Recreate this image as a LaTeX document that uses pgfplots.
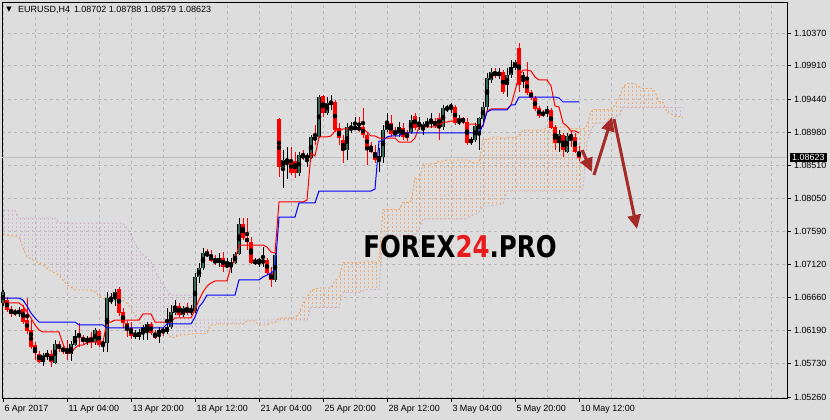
\documentclass[border=0pt]{standalone}
\usepackage{fontspec}
\setmainfont{Liberation Sans}
\newfontfamily\dejavu{DejaVu Sans}
\usepackage{graphicx}
\usepackage{pgfplots}
\pgfplotsset{compat=1.18}
\usepackage{pgfplotstable}
\usepgfplotslibrary{fillbetween}
\usetikzlibrary{patterns.meta, arrows.meta}

\definecolor{bg}{RGB}{221,221,221}
\definecolor{gridc}{RGB}{186,186,186}
\definecolor{bullc}{RGB}{54,104,88}
\definecolor{sandy}{RGB}{244,164,96}
\definecolor{thist}{RGB}{205,175,205}
\colorlet{hatchA}{sandy!80!bg}
\colorlet{hatchB}{thist!75!bg}
\definecolor{arrowc}{RGB}{165,42,42}
\definecolor{pline}{RGB}{192,192,192}
\definecolor{wred}{RGB}{232,28,28}
\pagecolor{bg}

\pgfdeclarepattern{
  name=vdash,
  type=uncolored,
  bottom left={\pgfpoint{-1bp}{-1bp}},
  top right={\pgfpoint{3bp}{3bp}},
  tile size={\pgfpoint{4bp}{4bp}},
  code={
    \pgfsetlinewidth{0.75bp}
    \pgfpathmoveto{\pgfpoint{0bp}{0bp}}
    \pgfpathlineto{\pgfpoint{0bp}{2bp}}
    \pgfusepath{stroke}
  }
}

% EURUSD H4 candles: bar index, open, high, low, close
\pgfplotstableread{
x o h l c
0 1.06580 1.06762 1.06538 1.06734
1 1.06622 1.06664 1.06454 1.06482
2 1.06496 1.06538 1.06384 1.06426
3 1.06468 1.06496 1.06398 1.06426
4 1.06426 1.06524 1.06384 1.06482
5 1.06496 1.06552 1.06285 1.06313
6 1.06341 1.06650 1.06145 1.06187
7 1.06201 1.06341 1.05934 1.05962
8 1.05990 1.06032 1.05780 1.05878
9 1.05864 1.05906 1.05738 1.05752
10 1.05752 1.05878 1.05696 1.05850
11 1.05836 1.05920 1.05780 1.05864
12 1.05864 1.05920 1.05682 1.05752
13 1.05738 1.06060 1.05724 1.06004
14 1.06004 1.06046 1.05892 1.05934
15 1.05948 1.05976 1.05864 1.05906
16 1.05934 1.06060 1.05780 1.05864
17 1.05864 1.06046 1.05766 1.06004
18 1.05990 1.06201 1.05976 1.06117
19 1.06131 1.06299 1.05962 1.06103
20 1.06103 1.06131 1.06004 1.06032
21 1.06032 1.06117 1.05990 1.06089
22 1.06103 1.06173 1.05948 1.06032
23 1.06032 1.06229 1.05990 1.06201
24 1.06187 1.06215 1.05962 1.05990
25 1.05990 1.06089 1.05892 1.06032
26 1.06018 1.06734 1.05892 1.06650
27 1.06594 1.06720 1.06566 1.06650
28 1.06650 1.06776 1.06538 1.06734
29 1.06776 1.06804 1.06398 1.06440
30 1.06454 1.06510 1.06229 1.06299
31 1.06299 1.06327 1.06103 1.06201
32 1.06229 1.06313 1.06075 1.06117
33 1.06103 1.06201 1.06075 1.06159
34 1.06103 1.06215 1.06060 1.06173
35 1.06159 1.06271 1.06060 1.06243
36 1.06201 1.06313 1.06060 1.06285
37 1.06285 1.06313 1.06131 1.06159
38 1.06159 1.06201 1.06075 1.06089
39 1.06145 1.06243 1.06018 1.06201
40 1.06215 1.06243 1.06117 1.06173
41 1.06173 1.06510 1.06145 1.06243
42 1.06243 1.06552 1.06215 1.06454
43 1.06440 1.06622 1.06412 1.06538
44 1.06538 1.06580 1.06384 1.06412
45 1.06412 1.06538 1.06384 1.06510
46 1.06510 1.06580 1.06412 1.06440
47 1.06440 1.06552 1.06412 1.06496
48 1.06468 1.07001 1.06440 1.06945
49 1.06945 1.07142 1.06861 1.07071
50 1.07071 1.07352 1.07043 1.07282
51 1.07282 1.07338 1.07226 1.07240
52 1.07254 1.07324 1.07156 1.07170
53 1.07184 1.07254 1.07114 1.07142
54 1.07142 1.07282 1.07085 1.07212
55 1.07212 1.07296 1.07015 1.07085
56 1.07085 1.07212 1.07071 1.07128
57 1.07085 1.07212 1.07001 1.07156
58 1.07142 1.07296 1.07128 1.07268
59 1.07268 1.07773 1.07254 1.07689
60 1.07689 1.07773 1.07464 1.07492
61 1.07492 1.07773 1.07324 1.07436
62 1.07436 1.07506 1.07128 1.07142
63 1.07142 1.07212 1.07114 1.07170
64 1.07156 1.07212 1.07085 1.07184
65 1.07142 1.07366 1.07085 1.07184
66 1.07184 1.07212 1.06973 1.07001
67 1.07001 1.07085 1.06804 1.06903
68 1.06903 1.07282 1.06875 1.07254
69 1.09163 1.09177 1.08349 1.08489
70 1.08489 1.08728 1.08195 1.08588
71 1.08574 1.08770 1.08321 1.08588
72 1.08588 1.08770 1.08377 1.08405
73 1.08574 1.08700 1.08335 1.08405
74 1.08405 1.08700 1.08363 1.08658
75 1.08658 1.08728 1.08588 1.08616
76 1.08616 1.08686 1.08489 1.08644
77 1.08616 1.08939 1.08602 1.08911
78 1.08911 1.09079 1.08798 1.08868
79 1.08911 1.09500 1.08896 1.09472
80 1.09486 1.09500 1.09191 1.09248
81 1.09248 1.09472 1.09220 1.09388
82 1.09374 1.09500 1.09290 1.09402
83 1.09402 1.09430 1.08981 1.09009
84 1.09037 1.09107 1.08798 1.08896
85 1.08868 1.08939 1.08546 1.08728
86 1.08728 1.09107 1.08588 1.09051
87 1.09009 1.09121 1.08967 1.09051
88 1.09023 1.09191 1.09009 1.09051
89 1.09051 1.09191 1.08981 1.09009
90 1.09051 1.09318 1.08896 1.08939
91 1.08939 1.08981 1.08518 1.08756
92 1.08756 1.08840 1.08686 1.08700
93 1.08700 1.08798 1.08546 1.08588
94 1.08588 1.08756 1.08419 1.08644
95 1.08630 1.09079 1.08546 1.09009
96 1.09009 1.09248 1.08981 1.09107
97 1.09107 1.09220 1.08911 1.08953
98 1.08995 1.09051 1.08911 1.08939
99 1.08953 1.09121 1.08911 1.09051
100 1.09037 1.09107 1.08868 1.08911
101 1.08981 1.09009 1.08854 1.08896
102 1.08981 1.09220 1.08953 1.09149
103 1.09205 1.09248 1.09009 1.09037
104 1.09051 1.09191 1.09009 1.09121
105 1.09009 1.09121 1.08939 1.09093
106 1.09051 1.09177 1.09037 1.09121
107 1.09107 1.09248 1.09037 1.09135
108 1.09135 1.09177 1.09037 1.09065
109 1.09177 1.09248 1.08868 1.09079
110 1.09051 1.09360 1.09009 1.09318
111 1.09290 1.09360 1.09262 1.09332
112 1.09318 1.09388 1.09248 1.09360
113 1.09332 1.09360 1.09079 1.09107
114 1.09107 1.09220 1.09079 1.09149
115 1.09177 1.09191 1.09093 1.09121
116 1.09121 1.09177 1.08798 1.08826
117 1.08826 1.08911 1.08798 1.08882
118 1.08868 1.09107 1.08840 1.09065
119 1.08939 1.09191 1.08728 1.09177
120 1.09163 1.09402 1.09121 1.09332
121 1.09332 1.09809 1.09290 1.09739
122 1.09711 1.09879 1.09669 1.09823
123 1.09823 1.09879 1.09739 1.09767
124 1.09767 1.09879 1.09725 1.09823
125 1.09823 1.09851 1.09514 1.09542
126 1.09641 1.09879 1.09472 1.09781
127 1.09781 1.09992 1.09739 1.09893
128 1.09879 1.09992 1.09851 1.09963
129 1.10160 1.10230 1.09542 1.09641
130 1.09711 1.09823 1.09599 1.09781
131 1.09711 1.09963 1.09500 1.09528
132 1.09542 1.09570 1.09430 1.09458
133 1.09458 1.09486 1.09276 1.09304
134 1.09318 1.09346 1.09177 1.09205
135 1.09248 1.09290 1.09191 1.09220
136 1.09234 1.09346 1.09191 1.09304
137 1.09290 1.09318 1.09023 1.09037
138 1.09051 1.09079 1.08728 1.08826
139 1.08826 1.09009 1.08700 1.08953
140 1.08939 1.08967 1.08630 1.08728
141 1.08700 1.08967 1.08686 1.08925
142 1.08939 1.08995 1.08770 1.08911
143 1.08911 1.08967 1.08686 1.08700
144 1.08702 1.08788 1.08579 1.08623
}\candles

% Tenkan-sen (red)
\pgfplotstableread{
x y
0 1.06580
4 1.06580
5 1.06538
6 1.06454
7 1.06370
8 1.06271
9 1.06201
10 1.06173
14 1.06173
15 1.06004
16 1.05878
17 1.05878
18 1.05948
19 1.05990
20 1.05990
21 1.06018
22 1.06032
25 1.06032
26 1.06313
27 1.06313
28 1.06341
34 1.06341
35 1.06426
37 1.06426
38 1.06313
42 1.06313
43 1.06370
47 1.06370
48 1.06482
49 1.06622
50 1.06734
51 1.06818
52 1.06861
53 1.06889
56 1.06889
57 1.07099
58 1.07184
59 1.07394
65 1.07394
66 1.07366
67 1.07296
68 1.07282
69 1.07998
75 1.07998
76 1.08026
77 1.08686
78 1.08644
79 1.08911
81 1.08911
82 1.08925
83 1.08995
84 1.08995
85 1.09023
90 1.09023
91 1.08981
92 1.08925
93 1.08925
94 1.08896
98 1.08896
99 1.08840
102 1.08840
103 1.08896
104 1.09051
109 1.09051
110 1.09121
111 1.09121
112 1.09135
115 1.09135
116 1.09093
118 1.09093
119 1.09065
120 1.09065
121 1.09276
122 1.09304
126 1.09304
127 1.09360
128 1.09556
129 1.09767
130 1.09851
131 1.09851
132 1.09837
133 1.09753
134 1.09711
136 1.09711
137 1.09627
138 1.09346
139 1.09332
140 1.09107
141 1.09065
142 1.08995
143 1.08995
144 1.08967
}\tenkan

% Kijun-sen (blue)
\pgfplotstableread{
x y
0 1.06650
4 1.06650
5 1.06622
6 1.06538
7 1.06440
8 1.06370
9 1.06313
18 1.06313
19 1.06271
25 1.06271
26 1.06229
40 1.06229
41 1.06285
47 1.06285
48 1.06384
49 1.06524
50 1.06594
51 1.06692
58 1.06692
59 1.06903
64 1.06903
65 1.06945
66 1.06973
67 1.07001
68 1.07043
69 1.07787
73 1.07787
74 1.07984
78 1.07984
79 1.08152
92 1.08152
93 1.08180
94 1.08854
95 1.08854
96 1.08911
97 1.08925
99 1.08925
100 1.08967
119 1.08967
120 1.09079
121 1.09262
122 1.09290
126 1.09290
127 1.09360
128 1.09360
129 1.09472
138 1.09472
139 1.09458
140 1.09402
144 1.09402
}\kijun

% Senkou span A
\pgfplotstableread{
x y
0 1.07549
1 1.07535
2 1.07521
3 1.07521
4 1.07507
5 1.07352
6 1.07226
7 1.07198
8 1.07170
9 1.07142
10 1.07114
11 1.07071
12 1.07029
13 1.07001
14 1.06973
15 1.06903
16 1.06832
17 1.06804
18 1.06762
22 1.06762
23 1.06734
24 1.06678
25 1.06650
26 1.06615
30 1.06615
31 1.06580
32 1.06496
33 1.06405
34 1.06320
35 1.06257
36 1.06243
40 1.06243
41 1.06159
42 1.06096
43 1.06096
44 1.06131
46 1.06131
47 1.06145
48 1.06152
51 1.06152
52 1.06271
53 1.06271
54 1.06285
60 1.06285
61 1.06327
63 1.06327
64 1.06271
66 1.06271
67 1.06299
68 1.06299
69 1.06370
73 1.06370
74 1.06433
75 1.06573
76 1.06664
77 1.06755
78 1.06776
79 1.06790
82 1.06790
83 1.06896
84 1.06938
85 1.07149
90 1.07149
91 1.07170
92 1.07170
93 1.07149
94 1.07163
95 1.07893
99 1.07893
100 1.07991
101 1.07991
102 1.08005
103 1.08335
104 1.08314
105 1.08532
107 1.08532
108 1.08539
109 1.08574
110 1.08574
111 1.08588
116 1.08588
117 1.08567
118 1.08539
119 1.08553
120 1.08875
121 1.08875
122 1.08903
123 1.08911
124 1.08911
125 1.08882
126 1.08903
128 1.08903
129 1.08932
130 1.09009
135 1.09009
136 1.09044
137 1.09044
138 1.09051
141 1.09051
142 1.09030
144 1.09030
145 1.09016
146 1.09072
147 1.09269
148 1.09297
152 1.09297
153 1.09360
154 1.09458
155 1.09620
156 1.09662
157 1.09662
158 1.09655
159 1.09613
160 1.09592
162 1.09592
163 1.09549
164 1.09409
165 1.09395
166 1.09255
167 1.09234
168 1.09198
169 1.09198
170 1.09184
}\spanA

% Senkou span B
\pgfplotstableread{
x y
0 1.07886
3 1.07886
4 1.07773
13 1.07773
14 1.07703
30 1.07703
31 1.07633
32 1.07535
33 1.07422
34 1.07324
35 1.07254
36 1.07212
37 1.07156
38 1.07043
39 1.06931
40 1.06832
41 1.06762
42 1.06692
47 1.06692
48 1.06341
76 1.06341
77 1.06517
84 1.06517
85 1.06727
89 1.06727
90 1.06748
91 1.06769
94 1.06769
95 1.07535
103 1.07535
104 1.07598
105 1.07759
116 1.07759
117 1.07808
118 1.07822
119 1.07858
120 1.07942
122 1.07942
123 1.07956
124 1.07956
125 1.07970
126 1.08152
144 1.08152
145 1.08188
146 1.08847
147 1.09002
148 1.09100
149 1.09107
150 1.09107
151 1.09121
152 1.09149
153 1.09205
154 1.09205
155 1.09325
170 1.09325
}\spanB

\begin{document}
\begin{tikzpicture}
\begin{axis}[
  at={(0,0)}, anchor=south west,
  scale only axis, width=785bp, height=395bp,
  xmin=-0.25, xmax=196, ymin=1.05246, ymax=1.10792,
  clip=false,
  axis background/.style={fill=bg},
  axis line style={black, line width=1bp},
  tick align=outside,
  xtick pos=left, ytick pos=right, yticklabel pos=right,
  major tick length=3.5bp, minor tick length=0pt,
  tick style={black, line width=1bp},
  xtick={0,16,32,48,64,80,96,112,128,144},
  xticklabels={6 Apr 2017,11 Apr 04:00,13 Apr 20:00,18 Apr 12:00,21 Apr 04:00,25 Apr 20:00,28 Apr 12:00,3 May 04:00,5 May 20:00,10 May 12:00},
  minor xtick={8,24,40,56,72,88,104,120,136,152,160,168,176,184,192},
  ytick={1.0526,1.0573,1.0619,1.0666,1.0712,1.0759,1.0805,1.0851,1.0898,1.0944,1.0991,1.1037},
  yticklabels={1.05260,1.05730,1.06190,1.06660,1.07120,1.07590,1.08050,1.08510,1.08980,1.09440,1.09910,1.10370},
  scaled y ticks=false,
  xmajorgrids, xminorgrids, ymajorgrids,
  major grid style={gridc, dash pattern=on 3bp off 3bp, line width=0.8bp},
  minor grid style={gridc, dash pattern=on 3bp off 3bp, line width=0.8bp},
  ticklabel style={font=\fontsize{9}{10}\selectfont, text=black},
  xticklabel style={anchor=north west, xshift=-2bp},
  yticklabel style={anchor=west},
]
% Ichimoku cloud
\addplot[name path=A, draw=none, forget plot] table[x=x,y=y] {\spanA};
\addplot[name path=B, draw=none, forget plot] table[x=x,y=y] {\spanB};
\addplot[draw=none, pattern=vdash, pattern color=hatchB, forget plot]
  fill between[of=A and B, split, every segment no 1/.style={pattern color=hatchA}];
\addplot[sandy, line width=0.9bp, dash pattern=on 2bp off 2bp, forget plot] table[x=x,y=y] {\spanA};
\addplot[thist, line width=0.9bp, dash pattern=on 2bp off 2bp, forget plot] table[x=x,y=y] {\spanB};

% current price line
\addplot[pline, line width=1bp, forget plot] coordinates {(-0.25,1.08623) (196,1.08623)};

% watermark
\node at (axis cs:114.25,1.07366) {\scalebox{0.82}[1]{\dejavu\bfseries\fontsize{30}{30}\selectfont FOREX\textcolor{wred}{24}.PRO}};

% wicks
\addplot[only marks, mark=none, forget plot,
  restrict expr to domain={\thisrow{c}-\thisrow{o}}{0:1},
  error bars/.cd, y dir=both, y explicit, error mark=none,
  error bar style={draw=black, line width=1bp}]
  table[x=x, y expr={(\thisrow{h}+\thisrow{l})/2}, y error expr={(\thisrow{h}-\thisrow{l})/2}] {\candles};
\addplot[only marks, mark=none, forget plot,
  restrict expr to domain={\thisrow{c}-\thisrow{o}}{-1:0},
  error bars/.cd, y dir=both, y explicit, error mark=none,
  error bar style={draw=red, line width=1bp}]
  table[x=x, y expr={(\thisrow{h}+\thisrow{l})/2}, y error expr={(\thisrow{h}-\thisrow{l})/2}] {\candles};
% bodies
\addplot[only marks, mark=none, forget plot,
  restrict expr to domain={\thisrow{c}-\thisrow{o}}{0:1},
  error bars/.cd, y dir=both, y explicit, error mark=none,
  error bar style={draw=black, line width=3.3bp}]
  table[x=x, y expr={(\thisrow{o}+\thisrow{c})/2}, y error expr={abs(\thisrow{c}-\thisrow{o})/2}] {\candles};
\addplot[only marks, mark=none, forget plot,
  restrict expr to domain={\thisrow{c}-\thisrow{o}}{0:1},
  error bars/.cd, y dir=both, y explicit, error mark=none,
  error bar style={draw=bullc, line width=2.3bp}]
  table[x=x, y expr={(\thisrow{o}+\thisrow{c})/2}, y error expr={abs(\thisrow{c}-\thisrow{o})/2}] {\candles};
\addplot[only marks, mark=none, forget plot,
  restrict expr to domain={\thisrow{c}-\thisrow{o}}{-1:0},
  error bars/.cd, y dir=both, y explicit, error mark=none,
  error bar style={draw=red, line width=3.2bp}]
  table[x=x, y expr={(\thisrow{o}+\thisrow{c})/2}, y error expr={abs(\thisrow{c}-\thisrow{o})/2}] {\candles};

% Tenkan and Kijun
\addplot[red, line width=1bp, forget plot] table[x=x,y=y] {\tenkan};
\addplot[blue, line width=1bp, forget plot] table[x=x,y=y] {\kijun};

% forecast arrows
\addplot[arrowc, line width=3bp, -{Triangle[length=14bp,width=13bp]}, forget plot] coordinates {(144.75,1.08728) (147.25,1.08419)};
\addplot[arrowc, line width=3bp, -{Triangle[length=14bp,width=13bp]}, forget plot] coordinates {(147.75,1.08377) (152.25,1.09191)};
\addplot[arrowc, line width=3bp, -{Triangle[length=14bp,width=13bp]}, forget plot] coordinates {(152.75,1.09163) (158.5,1.07619)};

% title
\node[inner sep=0pt] at (axis cs:1.5,1.10694) {\dejavu\fontsize{7}{7}\selectfont ▼};
\node[anchor=west, inner sep=0pt] at (axis cs:3.75,1.10694) {\fontsize{9}{10}\selectfont EURUSD,H4\hspace{4bp}1.08702 1.08788 1.08579 1.08623};

% current price box
\node[anchor=west, fill=black, text=white, inner xsep=2.5bp, inner ysep=1.5bp, xshift=2.5bp] at (axis cs:196,1.08623) {\fontsize{9}{10}\selectfont 1.08623};
\end{axis}
\pgfresetboundingbox
\path[use as bounding box] (-2bp,-22bp) rectangle (828bp,398bp);
\end{tikzpicture}
\end{document}
